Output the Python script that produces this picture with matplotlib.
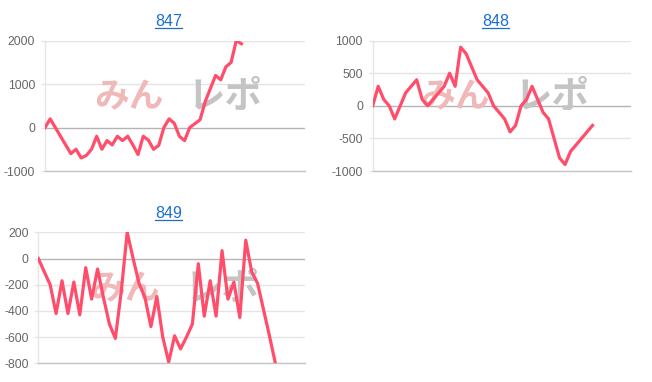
import matplotlib
matplotlib.use('Agg')
import matplotlib.pyplot as plt
from matplotlib.lines import Line2D
import numpy as np

plt.rcParams['font.family'] = ['Liberation Sans', 'Noto Sans CJK JP', 'DejaVu Sans']

# data (差枚 per game step)
titles = ['847', '848', '849']
vals_847 = [0, 200, 0, -200, -400, -600, -500, -700, -640, -500, -200, -500, -300,
            -400, -200, -300, -200, -400, -620, -200, -290, -500, -410, 0, 200, 100,
            -200, -300, 0, 90, 180, 600, 900, 1200, 1100, 1400, 1500, 2000, 1930]
vals_848 = [0, 300, 100, 0, -200, 0, 200, 300, 400, 100, 0, 100, 200, 300, 500, 300,
            900, 800, 600, 400, 300, 200, 0, -100, -200, -400, -300, 0, 100, 300, 100,
            -100, -200, -500, -800, -900, -700, -600, -500, -400, -300]
vals_849 = [0, -100, -200, -420, -170, -420, -180, -430, -70, -310, -80, -300, -500,
            -610, -250, 200, 0, -190, -300, -520, -290, -600, -790, -590, -690, -600,
            -500, -40, -440, -170, -440, 60, -310, -180, -450, 140, -100, -190, -390,
            -590, -800]
yticks_847 = [-1000, 0, 1000, 2000]
yticks_848 = [-1000, -500, 0, 500, 1000]
yticks_849 = [-800, -600, -400, -200, 0, 200]

LINE = '#ff4d6b'
W, H = 652, 382

fig = plt.figure(figsize=(W / 100, H / 100), dpi=100, facecolor='white')

# (left, top, right, bottom) in pixels, x span in steps, title centre
panels = [
    (vals_847, yticks_847, titles[0], (45, 40.7, 305, 171), 50.3, (168.7, 21.5)),
    (vals_848, yticks_848, titles[1], (372.7, 40.7, 631, 171), 47.0, (495.7, 21.5)),
    (vals_849, yticks_849, titles[2], (38.3, 232.3, 305, 363.3), 45.0, (168.7, 213.5)),
]

title_texts = []
for vals, yt, title, (l, t, r, b), span, (tx, ty) in panels:
    ax = fig.add_axes([l / W, 1 - b / H, (r - l) / W, (b - t) / H])
    x = np.arange(len(vals))
    ax.plot(x, vals, color=LINE, lw=2.3, zorder=3, solid_joinstyle='round')
    ax.set_xlim(0, span)
    ax.set_ylim(yt[0], yt[-1])
    ax.set_yticks(yt)
    ax.set_yticklabels([str(v) for v in yt])
    ax.set_xticks([])
    ax.tick_params(axis='y', length=3, width=1, color='#e6e6e6', pad=4,
                   labelsize=8.7, labelcolor='#666666')
    for y in yt:
        c = '#b4b4b4' if y == 0 else '#e4e4e4'
        ax.axhline(y, color=c, lw=1, zorder=1)
    for s in ['top', 'right']:
        ax.spines[s].set_visible(False)
    ax.spines['left'].set_color('#e6e6e6')
    ax.spines['bottom'].set_color('#c4c4c4')
    ax.spines['left'].set_linewidth(1)
    ax.spines['bottom'].set_linewidth(1)

    # watermark
    ax.text(0.455, 0.57, 'みん', transform=ax.transAxes, ha='right', va='center',
            fontsize=25, fontweight='bold', color='#efb9b9',
            family=['Noto Sans CJK JP'], zorder=2)
    ax.text(0.55, 0.57, 'レポ', transform=ax.transAxes, ha='left', va='center',
            fontsize=27, fontweight='bold', color='#c4c4c4',
            family=['Noto Sans CJK JP'], zorder=2)

    tt = fig.text(tx / W, 1 - ty / H, title, ha='center', va='center',
                  fontsize=11.5, color='#1a6fd1')
    title_texts.append(tt)

# underline the titles (they are links in the original)
fig.canvas.draw()
inv = fig.transFigure.inverted()
for tt in title_texts:
    bb = tt.get_window_extent()
    (x0, y0), (x1, _) = inv.transform([(bb.x0, bb.y0), (bb.x1, bb.y0)])
    fig.add_artist(Line2D([x0, x1], [y0 + 1 / H, y0 + 1 / H],
                          transform=fig.transFigure, color='#1a6fd1', lw=0.9))

fig.savefig('out.png', dpi=100, facecolor='white')
